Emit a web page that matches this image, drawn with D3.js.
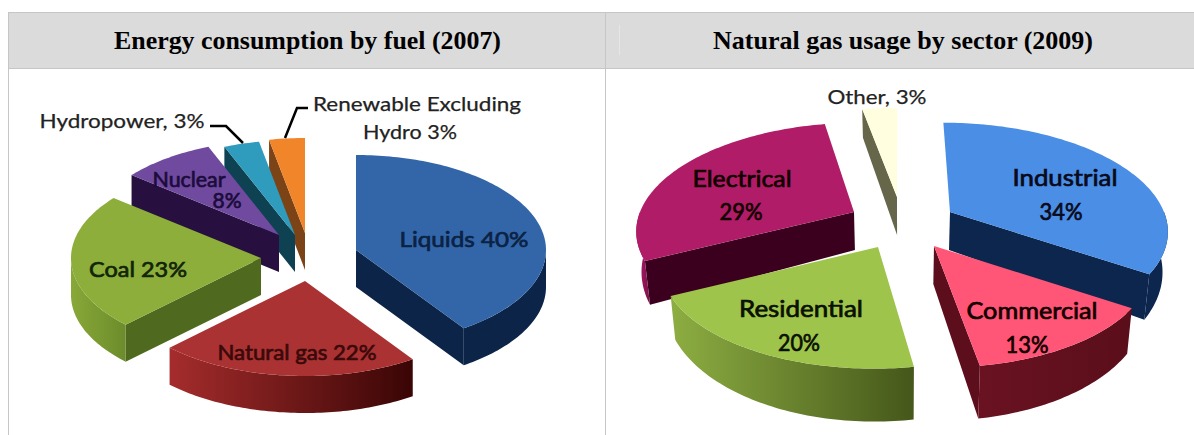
<!DOCTYPE html>
<html>
<head>
<meta charset="utf-8">
<script src="https://cdnjs.cloudflare.com/ajax/libs/d3/7.8.5/d3.min.js"></script>
<style>
    body { margin: 0; background: #fff; }
    svg { display: block; }
    .title { font-family: "Liberation Serif", serif; font-weight: bold; font-size: 25px; fill: #000; text-anchor: middle; }
    .label { font-family: Lato, sans-serif; text-anchor: middle; dominant-baseline: central; }
</style>
</head>
<body>
<div id="holder"></div>
<script>
// values
var fuelNames = ['Liquids', 'Natural gas', 'Coal', 'Nuclear', 'Hydropower', 'Renewable'];
var fuelValues = [40, 22, 23, 8, 3, 3];
var sectorNames = ['Industrial', 'Commercial', 'Residential', 'Electrical', 'Other'];
var sectorValues = [34, 13, 20, 29, 3];

// pull-out of each slice from the pie centre, top colour, wall colours
var fuelPull = [[51, -3], [0, 28], [-44, 5], [-26, -18], [-10, -18], [0, -20]];
var fuelTop = ['#3366a8', '#ab3232', '#8dae3a', '#6f4a9e', '#2f9bbd', '#f0852a'];
var fuelFace = ['#0b2447', '#300', '#4f6a1f', '#27103f', '#0e4252', '#7c4316'];
var fuelWall = [['#0b2447', '#0b2447'], ['#a52c2c', '#3a0505'], ['#88a838', '#6c8c2c'], ['#27103f', '#27103f'], ['#0e4252', '#0e4252'], ['#7c4316', '#7c4316']];

var sectorPull = [[50, -8], [34, 26], [-22, 27], [-46, -8], [-3, -23]];
var sectorTop = ['#4a8ee6', '#ff5577', '#9fc44c', '#b01c68', '#ffffe0'];
var sectorFace = ['#0c264e', '#5c0e1c', '#46581a', '#3a001e', '#66664a'];
var sectorWall = [['#0c264e', '#0c264e'], ['#6a1222', '#5a0e1a'], ['#8dae42', '#45571a'], ['#b01c68', '#7a1048'], ['#66664a', '#66664a']];

var svg = d3.select('#holder').append('svg').attr('width', 1194).attr('height', 435);

function drawPanels() {
    svg.append('rect').attr('x', 8.5).attr('y', 12.5).attr('width', 1190).attr('height', 56)
        .attr('fill', '#dbdbdb').attr('stroke', '#c6c6c6');
    svg.append('line').attr('x1', 8.5).attr('x2', 8.5).attr('y1', 12).attr('y2', 435).attr('stroke', '#c6c6c6');
    svg.append('line').attr('x1', 605.5).attr('x2', 605.5).attr('y1', 12).attr('y2', 435).attr('stroke', '#c6c6c6');
    svg.append('line').attr('x1', 619.5).attr('x2', 619.5).attr('y1', 25).attr('y2', 55).attr('stroke', '#e6e6e6');

    svg.append('text').attr('class', 'title').attr('x', 307.5).attr('y', 49)
        .attr('textLength', 387).attr('lengthAdjust', 'spacingAndGlyphs')
        .text('Energy consumption by fuel (2007)');
    svg.append('text').attr('class', 'title').attr('x', 903).attr('y', 49)
        .attr('textLength', 380).attr('lengthAdjust', 'spacingAndGlyphs')
        .text('Natural gas usage by sector (2009)');
}

function drawPie(cfg) {
    var arcs = d3.pie().sort(null).value(function(d) { return d; })(cfg.values);
    var line = d3.line().x(function(d) { return d[0]; }).y(function(d) { return d[1]; });
    var defs = svg.append('defs');
    var g = svg.append('g');

    var slices = arcs.map(function(a, i) {
        return {
            i: i,
            start: a.startAngle,
            end: a.endAngle,
            mid: (a.startAngle + a.endAngle) / 2,
            ax: cfg.cx + cfg.pull[i][0],
            ay: cfg.cy + cfg.pull[i][1]
        };
    });

    // perspective: the far side of the pie shrinks towards the centre line
    function top(s, t, r) {
        var w = 1 / (1 + cfg.k * Math.cos(t) * r);
        return [cfg.cx + (s.ax - cfg.cx + cfg.rx * r * Math.sin(t)) * w, s.ay - cfg.ry * r * Math.cos(t) * w, w];
    }

    function bottom(s, t, r) {
        var p = top(s, t, r);
        return [cfg.cx + (p[0] - cfg.cx) * cfg.shrink, p[1] + cfg.h * p[2] * p[2]];
    }

    function arcPoints(s, a, b, fn) {
        var n = Math.max(2, Math.ceil((b - a) / 0.02));
        return d3.range(n + 1).map(function(j) {
            return fn(s, a + (b - a) * j / n, 1);
        });
    }

    function face(s, t) {
        return [top(s, t, 0), top(s, t, 1), bottom(s, t, 1), bottom(s, t, 0)];
    }

    // back slices first
    slices.sort(function(p, q) { return Math.cos(q.mid) - Math.cos(p.mid); });

    slices.forEach(function(s) {
        var i = s.i;
        var slice = g.append('g');

        var gradId = cfg.id + '-wall-' + i;
        var grad = defs.append('linearGradient').attr('id', gradId);
        grad.append('stop').attr('offset', 0).attr('stop-color', cfg.wall[i][0]);
        grad.append('stop').attr('offset', 1).attr('stop-color', cfg.wall[i][1]);

        if (Math.sin(s.start) < -0.001) {
            slice.append('path').attr('d', line(face(s, s.start)) + 'Z').attr('fill', cfg.face[i]);
        }
        if (Math.sin(s.end) > 0.001) {
            slice.append('path').attr('d', line(face(s, s.end)) + 'Z').attr('fill', cfg.face[i]);
        }

        var a = Math.max(s.start, Math.PI / 2);
        var b = Math.min(s.end, Math.PI * 1.5);
        if (b > a) {
            var wall = arcPoints(s, a, b, top).concat(arcPoints(s, a, b, bottom).reverse());
            slice.append('path').attr('d', line(wall) + 'Z').attr('fill', 'url(#' + gradId + ')');
        }

        var topPts = [top(s, 0, 0)].concat(arcPoints(s, s.start, s.end, top));
        slice.append('path').attr('d', line(topPts) + 'Z').attr('fill', cfg.top[i]);
    });
}

// text, x, y, width, size, colour
function drawLabels(list) {
    svg.append('g').selectAll('text').data(list).enter().append('text')
        .attr('class', 'label')
        .attr('x', function(d) { return d[1]; })
        .attr('y', function(d) { return d[2]; })
        .attr('textLength', function(d) { return d[3]; })
        .attr('lengthAdjust', 'spacingAndGlyphs')
        .attr('font-size', function(d) { return d[4]; })
        .attr('font-weight', 400)
        .attr('stroke', function(d) { return d[5]; })
        .attr('stroke-width', function(d) { return d[4] > 20 ? 0.7 : 0.25; })
        .attr('fill', function(d) { return d[5]; })
        .text(function(d) { return d[0]; });
}

drawPanels();

drawPie({ id: 'fuel', values: fuelValues, pull: fuelPull, top: fuelTop, face: fuelFace, wall: fuelWall,
    cx: 305, cy: 253, rx: 190, ry: 95, k: 0, h: 37, shrink: 1 });
drawPie({ id: 'sector', values: sectorValues, pull: sectorPull, top: sectorTop, face: sectorFace, wall: sectorWall,
    cx: 900, cy: 220, rx: 214, ry: 103, k: 0.153, h: 38, shrink: 0.98 });

// leader lines of the two small slices
svg.append('path').attr('d', 'M210,126H226L243,143').attr('fill', 'none').attr('stroke', '#000').attr('stroke-width', 2.5);
svg.append('path').attr('d', 'M308,108H297L285,138').attr('fill', 'none').attr('stroke', '#000').attr('stroke-width', 2.5);

drawLabels([
    ['Renewable Excluding', 417, 103, 208, 20, '#222'],
    ['Hydro 3%', 410, 131, 94, 20, '#222'],
    ['Hydropower, 3%', 122, 120, 165, 20, '#222'],
    ['Nuclear', 189, 178, 73, 21, '#1c0c3c'],
    ['8%', 227, 199, 29, 21, '#1c0c3c'],
    ['Coal 23%', 138, 268, 98, 22, '#12240a'],
    ['Natural gas 22%', 297, 351, 159, 21, '#3a0a0a'],
    ['Liquids 40%', 464, 238, 129, 22, '#0b2244'],
    ['Other, 3%', 877, 96, 99, 20, '#222'],
    ['Industrial', 1065, 177, 105, 23, '#0a0a1a'],
    ['34%', 1061, 211, 43, 23, '#0a0a1a'],
    ['Commercial', 1032, 310, 131, 23, '#100'],
    ['13%', 1027, 344, 43, 23, '#100'],
    ['Residential', 801, 308, 124, 23, '#0a1000'],
    ['20%', 799, 342, 42, 23, '#0a1000'],
    ['Electrical', 742, 178, 99, 23, '#100'],
    ['29%', 741, 211, 43, 23, '#100']
]);
</script>
</body>
</html>
